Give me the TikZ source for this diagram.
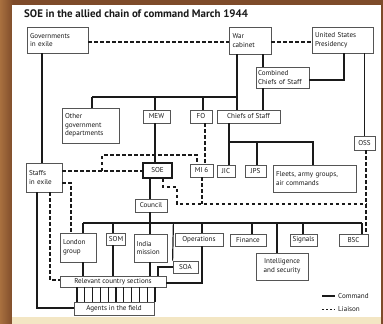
\documentclass[tikz,border=0pt]{standalone}
\usepackage{fontspec}
\setmainfont{PT Sans}
\usetikzlibrary{calc}
\definecolor{wood}{HTML}{7E4B2A}
\definecolor{woodlight}{HTML}{A8703F}
\definecolor{paperbot}{HTML}{F3E6C4}
\definecolor{ink}{HTML}{1A1A1A}
\definecolor{frame}{HTML}{555555}
\tikzset{
  box/.style={draw=frame, line width=0.8pt, fill=white, inner sep=2pt, font=\fontsize{7.1}{8.6}\selectfont, text=ink},
  lbox/.style={box, align=left},
  cbox/.style={box, align=center},
  cmd/.style={draw=ink, line width=1.2pt},
  lia/.style={draw=ink, line width=1.1pt, dash pattern=on 3.5pt off 2.5pt},
}
\begin{document}
\begin{tikzpicture}[x=1pt,y=-1pt]
\useasboundingbox (0,0) rectangle (383,324);
% background
\fill[wood] (0,0) rectangle (383,324);
\shade[left color=woodlight, right color=wood] (0,0) rectangle (13,324);
\fill[paperbot] (12,316) rectangle (381,324);
\fill[white] (12,5) rectangle (381,317);

% title
\node[anchor=west, inner sep=0, font=\bfseries\fontsize{10.9}{12}\selectfont, text=ink] (title) at (24,13.5) {SOE in the allied chain of command March 1944};

% boxes
\node[lbox, minimum width=61, minimum height=26, text width=55] (gov) at (57.5,40) {Governments\\in exile};
\node[lbox, minimum width=42, minimum height=27, text width=35] (war) at (250,40.5) {War\\cabinet};
\node[lbox, minimum width=61, minimum height=26, text width=55] (usp) at (342.5,40) {United States\\Presidency};
\node[lbox, minimum width=53, minimum height=21, text width=49] (ccs) at (282.5,77.5) {Combined\\Chiefs of Staff};
\node[lbox, minimum width=57, minimum height=35, text width=51] (other) at (90.5,125.5) {Other\\government\\departments};
\node[cbox, minimum width=27, minimum height=13] (mew) at (156.5,116.5) {MEW};
\node[cbox, minimum width=22, minimum height=13] (fo) at (201,116.5) {FO};
\node[cbox, minimum width=63, minimum height=13] (cos) at (248.5,116.5) {Chiefs of Staff};
\node[cbox, minimum width=21, minimum height=14] (oss) at (364.5,143) {OSS};
\node[lbox, minimum width=36, minimum height=29, text width=30] (staffs) at (44,177.5) {Staffs\\in exile};
\node[cbox, draw=ink, line width=1.8pt, minimum width=29, minimum height=15] (soe) at (157.5,170.5) {SOE};
\node[cbox, minimum width=23, minimum height=13] (mi6) at (201.5,170.5) {MI 6};
\node[cbox, minimum width=18, minimum height=12] (jic) at (226,171) {JIC};
\node[cbox, minimum width=21, minimum height=12] (jps) at (255.5,171) {JPS};
\node[lbox, minimum width=83, minimum height=27, text width=77] (fleets) at (314.5,178.5) {Fleets, army groups,\\air commands};
\node[cbox, minimum width=32, minimum height=13] (council) at (151,205.5) {Council};
\node[lbox, minimum width=36, minimum height=29, text width=30] (london) at (78,247.5) {London\\group};
\node[cbox, minimum width=18, minimum height=12] (som) at (116,239) {SOM};
\node[lbox, minimum width=33, minimum height=28, text width=28] (india) at (150.5,248) {India\\mission};
\node[cbox, minimum width=48, minimum height=13] (ops) at (199,239.5) {Operations};
\node[cbox, minimum width=36, minimum height=12] (fin) at (248,240) {Finance};
\node[cbox, minimum width=27, minimum height=12] (sig) at (303.5,240) {Signals};
\node[cbox, minimum width=29, minimum height=12] (bsc) at (353.5,240) {BSC};
\node[cbox, minimum width=52, minimum height=27] (intel) at (282,266.5) {Intelligence\\and security};
\node[cbox, minimum width=25, minimum height=12] (soa) at (185.5,267) {SOA};
\node[cbox, minimum width=106, minimum height=11] (rcs) at (113,281.5) {Relevant country sections};
\node[cbox, minimum width=80, minimum height=13] (agents) at (114,308.5) {Agents in the field};

% ---------- command lines ----------
\coordinate (gx) at (42,0);
\draw[cmd] (gov.south -| gx) -- (staffs.north -| gx);
% bus under war cabinet
\coordinate (b1a) at (92,97);
\coordinate (b1m) at (155,97);
\coordinate (b1f) at (203,97);
\coordinate (b1w) at (237,97);
\draw[cmd] (b1a) -- (b1w);
\draw[cmd] (b1a) -- (b1a |- other.north);
\draw[cmd] (b1m) -- (b1m |- mew.north);
\draw[cmd] (b1f) -- (b1f |- fo.north);
\draw[cmd] (war.south -| b1w) -- (cos.north -| b1w);
\coordinate (cx) at (263,0);
\draw[cmd] (war.south -| cx) -- (ccs.north -| cx);
\draw[cmd] (ccs.south -| cx) -- (cos.north -| cx);
\coordinate (ux) at (344,80);
\draw[cmd] (usp.south -| ux) -- (ux) -- (ccs.east |- ux);
\draw[cmd] (usp.south -| oss.north) -- (oss.north);
\draw[cmd] (b1m |- mew.south) -- (b1m |- soe.north);
% chiefs of staff bus
\coordinate (b2j) at (229,142);
\coordinate (b2p) at (257,142);
\coordinate (b2f) at (313,142);
\draw[cmd] (cos.south -| b2j) -- (b2j |- jic.north);
\draw[cmd] (b2j) -- (b2f) -- (b2f |- fleets.north);
\draw[cmd] (b2p) -- (b2p |- jps.north);
% council bus
\coordinate (b3x) at (150,223);
\draw[cmd] (soe.south -| b3x) -- (council.north -| b3x);
\draw[cmd] (council.south -| b3x) -- (india.north -| b3x);
\coordinate (b3l) at (83,223);
\coordinate (b3s) at (113,223);
\coordinate (b3a) at (173.4,223);
\coordinate (b3o) at (202,223);
\coordinate (b3f) at (252,223);
\coordinate (b3i) at (277,223);
\coordinate (b3g) at (303,223);
\coordinate (b3b) at (362,223);
\draw[cmd] (b3l) -- (b3b);
\draw[cmd] (b3l) -- (b3l |- london.north);
\draw[cmd] (b3s) -- (b3s |- som.north);
\draw[cmd] (b3a) -- (soa.north west);
\draw[cmd] (b3o) -- (b3o |- ops.north);
\draw[cmd] (b3f) -- (b3f |- fin.north);
\draw[cmd] (b3i) -- (b3i |- intel.north);
\draw[cmd] (b3g) -- (b3g |- sig.north);
\draw[cmd] (b3b) -- (b3b |- bsc.north);
\draw[cmd] (london.south -| b3l) -- (rcs.north -| b3l);
\draw[cmd] (som.south -| b3s) -- (rcs.north -| b3s);
\draw[cmd] (india.south -| b3x) -- (rcs.north -| b3x);
\coordinate (sa) at (158,267);
\draw[cmd] (rcs.north -| sa) -- (sa) -- (soa.west);
\coordinate (oa) at (202,283);
\draw[cmd] (ops.south -| oa) -- (oa) -- (rcs.east |- oa);
\coordinate (sx) at (37,308);
\draw[cmd] (staffs.south -| sx) -- (sx) -- (agents.west |- sx);
\foreach \i in {0,...,10} {
  \coordinate (ag\i) at ({77+\i*7.8},0);
  \draw[cmd, line width=1.1pt] (rcs.south -| ag\i) -- (agents.north -| ag\i);
}

% ---------- liaison lines ----------
\draw[lia] (gov.east |- 0,42) -- (war.west |- 0,42);
\draw[lia] (war.east |- 0,42) -- (usp.west |- 0,42);
\coordinate (ls) at (102,171);
\draw[lia] (staffs.east |- ls) -- (soe.west |- ls);
\coordinate (lm1) at (102,155);
\coordinate (lm2) at (197,155);
\draw[lia] (ls) -- (lm1) -- (lm2) -- (lm2 |- mi6.north);
\coordinate (fx) at (205,0);
\draw[lia] (fo.south -| fx) -- (mi6.north -| fx);
\coordinate (d1) at (163,187);
\coordinate (d2) at (177,187);
\coordinate (d3) at (177,204);
\coordinate (d4) at (366,204);
\draw[lia] (soe.south -| d1) -- (d1) -- (d2) -- (d3) -- (d4);
\coordinate (mx) at (202,204);
\draw[lia] (mi6.south -| mx) -- (mx);
\coordinate (ox) at (366,0);
\draw[lia] (oss.south -| ox) -- (bsc.north -| ox);
\coordinate (e1) at (71,183);
\draw[lia] (staffs.east |- e1) -- (e1) -- (e1 |- london.north);
\coordinate (e2) at (50,280);
\draw[lia] (staffs.south -| e2) -- (e2) -- (rcs.west |- e2);

% ---------- legend ----------
\coordinate (lg1) at (322,296);
\coordinate (lg2) at (335,296);
\coordinate (lg3) at (322,309);
\coordinate (lg4) at (335,309);
\draw[cmd] (lg1) -- (lg2);
\node[anchor=west, inner sep=0, font=\fontsize{7.1}{8}\selectfont, text=ink] (lcmd) at (338,296) {Command};
\draw[draw=ink, line width=0.9pt, dash pattern=on 2.2pt off 1.8pt] (lg3) -- (lg4);
\node[anchor=west, inner sep=0, font=\fontsize{7.1}{8}\selectfont, text=ink] (llia) at (338,309) {Liaison};
\end{tikzpicture}
\end{document}
